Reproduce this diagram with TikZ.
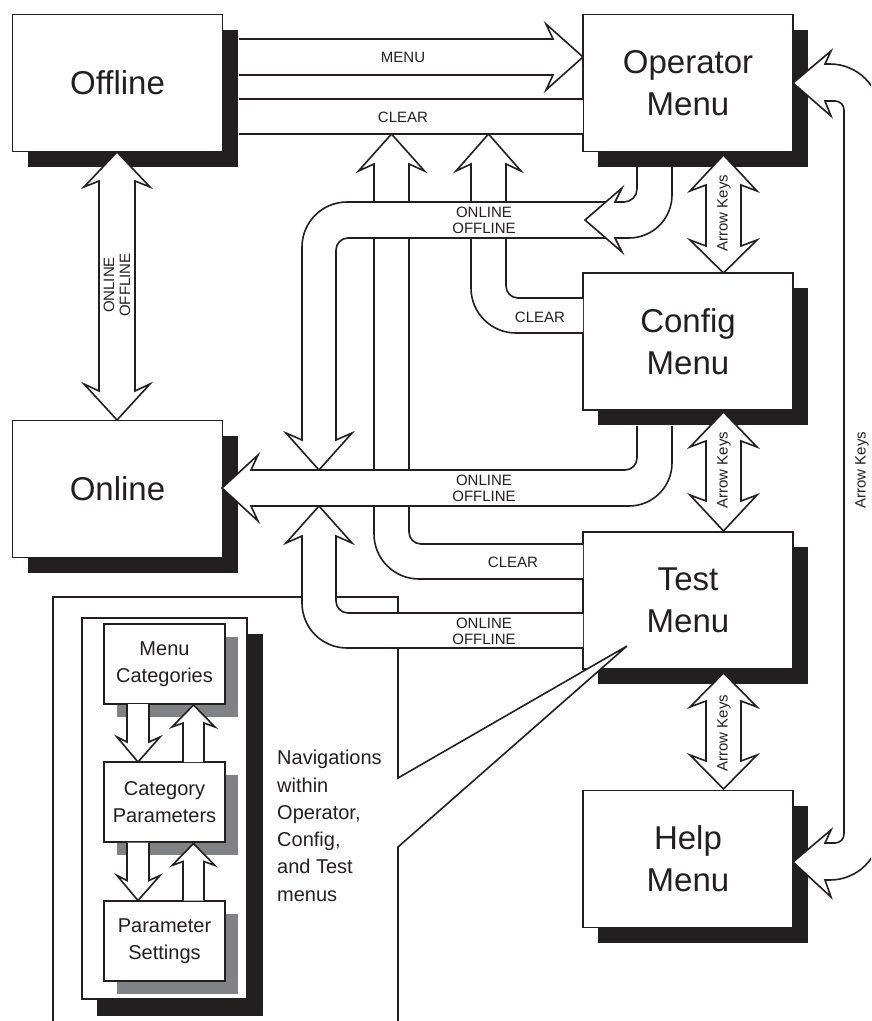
\documentclass[tikz,border=0pt]{standalone}
\usepackage{fontspec}
\setmainfont{Liberation Sans}
\usetikzlibrary{shadows}
\definecolor{ink}{RGB}{35,31,32}
\definecolor{shade}{RGB}{128,130,133}
\begin{document}
\begin{tikzpicture}[x=1pt,y=-1pt,
  fat/.style={draw=ink,fill=white,line width=1.6pt,line join=miter},
  menubox/.style={draw=ink,fill=white,line width=1.6pt,minimum width=210pt,minimum height=137pt,inner sep=0pt,align=center,text=ink,font=\fontsize{33}{42}\selectfont,general shadow={fill=ink,shadow xshift=15pt,shadow yshift=-15pt}},
  smallbox/.style={draw=ink,fill=white,line width=1.6pt,minimum width=121pt,minimum height=80pt,inner sep=0pt,align=center,text=ink,font=\fontsize{20}{27}\selectfont,general shadow={fill=shade,shadow xshift=12.5pt,shadow yshift=-12.5pt}},
  lbl/.style={inner sep=0pt,align=center,text=ink,font=\fontsize{15}{16}\selectfont}]
\useasboundingbox (0,0) rectangle (871,1021);
\clip (0,0) rectangle (871,1021);
\fill[white] (0,0) rectangle (871,1021);

% main menu boxes
\node[menubox] (offline)  at (117.5,83)   {Offline};
\node[menubox] (operator) at (688,83)     {Operator\\Menu};
\node[menubox] (config)   at (688,341.5)  {Config\\Menu};
\node[menubox] (online)   at (117.5,489)  {Online};
\node[menubox] (test)     at (688,600.5)  {Test\\Menu};
\node[menubox] (help)     at (688,859)    {Help\\Menu};

% callout frame
\filldraw[fat] (53,1030) -- (53,597) -- (398,597) -- (398,778) -- (627,646) -- (398,847) -- (398,1030);
\fill[ink] (97,634) rectangle (263,1016);
\filldraw[fat] (82,618) rectangle (247,999);
\node[smallbox] (cats)     at (164.5,664) {Menu\\Categories};
\node[smallbox] (params)   at (164.5,802) {Category\\Parameters};
\node[smallbox] (settings) at (164.5,941) {Parameter\\Settings};
\filldraw[fat] (127,704) -- (127,742) -- (117,737) -- (138,762) -- (160,737) -- (149,742) -- (149,704);
\filldraw[fat] (183,762) -- (183,723) -- (172,727) -- (193.5,705) -- (215,727) -- (204,723) -- (204,762);
\filldraw[fat] (127,842.5) -- (127,880.5) -- (117,875.5) -- (138,900.5) -- (160,875.5) -- (149,880.5) -- (149,842.5);
\filldraw[fat] (183,900.5) -- (183,861.5) -- (172,865.5) -- (193.5,843.5) -- (215,865.5) -- (204,861.5) -- (204,900.5);
\node[anchor=north west,inner sep=0pt,align=left,text=ink,font=\fontsize{20}{27.3}\selectfont] (navtext) at (277,750)
  {Navigations\\within\\Operator,\\Config,\\and Test\\menus};

% MENU and CLEAR between Offline and Operator
\filldraw[fat] (239,39) -- (553,39) -- (546,24) -- (583,57) -- (546,90) -- (553,75) -- (239,75);
\fill[white] (239,99) rectangle (583,134);
\draw[ink,line width=1.6pt] (239,99) -- (583,99) (239,134) -- (583,134);

% CLEAR from Test (A) and from Config (B)
\filldraw[fat] (583,544) -- (421,544) .. controls (414.4,544) and (409,538.6) .. (409,532) -- (409,164) -- (424.5,171) -- (391.5,134) -- (358.5,171) -- (374,164) -- (374,534) .. controls (374,558.9) and (394.2,579) .. (419,579) -- (583,579);
\filldraw[fat] (583,298) -- (518,298) .. controls (511.4,298) and (506,292.6) .. (506,286) -- (506,164) -- (521,171) -- (488.5,134) -- (456,171) -- (471,164) -- (471,288) .. controls (471,312.9) and (491.2,333) .. (516,333) -- (583,333);

% ONLINE/OFFLINE from Operator to Online (upper band)
\filldraw[fat] (618,202) -- (347,202) .. controls (322.15,202) and (302,222.15) .. (302,247) -- (302,440) -- (286,433) -- (319,470) -- (352,433) -- (336,440) -- (336,250) .. controls (336,243.4) and (341.4,238) .. (348,238) -- (618,238);
\filldraw[fat] (637,167) -- (637,189) .. controls (637,196.2) and (631.2,202) .. (624,202) -- (615,202) -- (622,188) -- (585,220) -- (622,252) -- (615,238) -- (629,238) .. controls (652.75,238) and (672,218.75) .. (672,195) -- (672,167);

% ONLINE/OFFLINE from Config to Online
\filldraw[fat] (637,426) -- (637,458) .. controls (637,464.6) and (631.6,470) .. (625,470) -- (251,470) -- (258,455) -- (222,488) -- (258,521) -- (251,506) -- (629,506) .. controls (652.75,506) and (672,486.75) .. (672,463) -- (672,426);

% ONLINE/OFFLINE from Test to Online
\filldraw[fat] (583,613) -- (348,613) .. controls (341.4,613) and (336,607.6) .. (336,601) -- (336,536) -- (352,543) -- (319,506) -- (286,543) -- (302,536) -- (302,603) .. controls (302,627.85) and (322.15,648) .. (347,648) -- (583,648);

% Offline <-> Online
\filldraw[fat] (99,181) -- (84,187) -- (117,152) -- (150,187) -- (135,181) -- (135,391) -- (150,384) -- (117,420) -- (84,384) -- (99,391) -- cycle;

% Arrow Keys double arrows
\filldraw[fat] (706,185) -- (690,191) -- (723.5,155) -- (757,191) -- (741,185) -- (741,246) -- (757,240) -- (723.5,273) -- (690,240) -- (706,246) -- cycle;
\filldraw[fat] (706,441) -- (690,447) -- (723.5,412) -- (757,447) -- (741,441) -- (741,501) -- (757,495) -- (723.5,531) -- (690,495) -- (706,501) -- cycle;
\filldraw[fat] (706,701) -- (690,707) -- (723.5,673) -- (757,707) -- (741,701) -- (741,761) -- (757,755) -- (723.5,789) -- (690,755) -- (706,761) -- cycle;

% big right Arrow Keys arrow (Operator <-> Help)
\filldraw[fat] (825,64) -- (831,51) -- (793,83) -- (831,116) -- (825,101) -- (835,101) .. controls (840,101) and (844,105) .. (844,110) -- (844,834) .. controls (844,839) and (840,843) .. (835,843) -- (825,843) -- (831,830) -- (793,862) -- (831,897) -- (825,880) -- (830,880) .. controls (857.6,880) and (880,857.6) .. (880,830) -- (880,114) .. controls (880,86.4) and (857.6,64) .. (830,64) -- cycle;

% labels
\node[lbl] (lmenu)  at (403,57)  {MENU};
\node[lbl] (lclr1)  at (403,117) {CLEAR};
\node[lbl] (lon1)   at (484,220) {ONLINE\\OFFLINE};
\node[lbl] (lclr2)  at (540,317) {CLEAR};
\node[lbl] (lon2)   at (484,488) {ONLINE\\OFFLINE};
\node[lbl] (lclr3)  at (513,562) {CLEAR};
\node[lbl] (lon3)   at (484,631) {ONLINE\\OFFLINE};
\node[lbl,rotate=90] (lon4) at (117,285) {ONLINE\\OFFLINE};
\node[lbl,rotate=90] (lak1) at (724,213) {Arrow Keys};
\node[lbl,rotate=90] (lak2) at (724,470) {Arrow Keys};
\node[lbl,rotate=90] (lak3) at (724,733) {Arrow Keys};
\node[lbl,rotate=90] (lak4) at (862,470) {Arrow Keys};
\end{tikzpicture}
\end{document}
